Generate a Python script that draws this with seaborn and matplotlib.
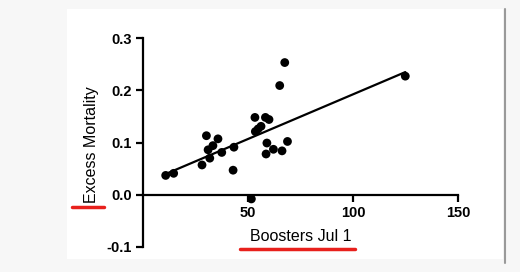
import numpy as np
import pandas as pd
import seaborn as sns
import matplotlib.pyplot as plt
from matplotlib.lines import Line2D
from matplotlib.patches import Rectangle

boosters = [10.8, 14.6, 28.1, 30.2, 31.8, 31.0, 33.3, 35.7, 37.5, 42.9, 43.3,
            51.6, 53.5, 53.3, 54.8, 56.2, 58.3, 60.0, 59.0, 58.6, 62.1, 66.2,
            65.1, 67.5, 68.8, 124.9]
excess = [0.037, 0.041, 0.057, 0.113, 0.070, 0.086, 0.094, 0.107, 0.081, 0.047, 0.091,
          -0.008, 0.121, 0.148, 0.126, 0.131, 0.148, 0.144, 0.099, 0.078, 0.087, 0.084,
          0.209, 0.253, 0.102, 0.227]
x_ticks = [50, 100, 150]
y_ticks = [-0.1, 0.0, 0.1, 0.2, 0.3]
x_label = "Boosters Jul 1"
y_label = "Excess Mortality"

df = pd.DataFrame({"x": boosters, "y": excess})

sns.set_theme(style="white")
plt.rcParams['font.family'] = ['Liberation Sans', 'DejaVu Sans']

W, H = 520, 272
fig = plt.figure(figsize=(W / 100, H / 100), dpi=100)
fig.patch.set_facecolor("#f7f7f7")
fig.add_artist(Rectangle((67 / W, (H - 259) / H), (503 - 67) / W, (259 - 9) / H,
                         transform=fig.transFigure, facecolor="white", edgecolor="none", zorder=0))
fig.add_artist(Line2D([505 / W, 505 / W], [(H - 263) / H, (H - 9) / H],
                      transform=fig.transFigure, color="#9a9a9a", lw=1.5))

ax = fig.add_axes([143 / W, 25 / H, (458 - 143) / W, (247 - 38) / H])
ax.set_facecolor("none")

sns.regplot(data=df, x="x", y="y", ax=ax, ci=None, truncate=True,
            scatter_kws=dict(s=40, color="black", edgecolor="none", alpha=1),
            line_kws=dict(color="black", lw=1.6))

ax.set_xlim(0, 150)
ax.set_ylim(-0.1, 0.3)
ax.set_xticks(x_ticks)
ax.set_yticks(y_ticks)
ax.set_yticklabels([f"{v:.1f}" for v in y_ticks])

for s in ["top", "right"]:
    ax.spines[s].set_visible(False)
ax.spines["bottom"].set_position(("data", 0))
for s in ["left", "bottom"]:
    ax.spines[s].set_color("black")
    ax.spines[s].set_linewidth(1.6)

ax.tick_params(axis="both", direction="out", length=5, width=1.6, color="black",
               labelsize=10.5, pad=3, bottom=True, left=True)
for t in ax.get_xticklabels() + ax.get_yticklabels():
    t.set_fontweight("bold")
    t.set_color("black")

ax.set_xlabel(x_label, fontsize=11.5, color="black")
ax.set_ylabel(y_label, fontsize=11.5, color="black")
ax.xaxis.set_label_coords(0.5, 0.048)
ax.xaxis.label.set_va("center")
ax.yaxis.set_label_coords(-0.163, 0.49)
ax.yaxis.label.set_va("center")

# red underline marks
fig.add_artist(Line2D([240 / W, 355 / W], [(H - 249) / H, (H - 249) / H],
                      transform=fig.transFigure, color="#e8201c", lw=2.5, solid_capstyle="round"))
fig.add_artist(Line2D([72 / W, 104 / W], [(H - 207) / H, (H - 207) / H],
                      transform=fig.transFigure, color="#e8201c", lw=2.5, solid_capstyle="round"))

fig.savefig("out.png", dpi=100, facecolor=fig.get_facecolor())
